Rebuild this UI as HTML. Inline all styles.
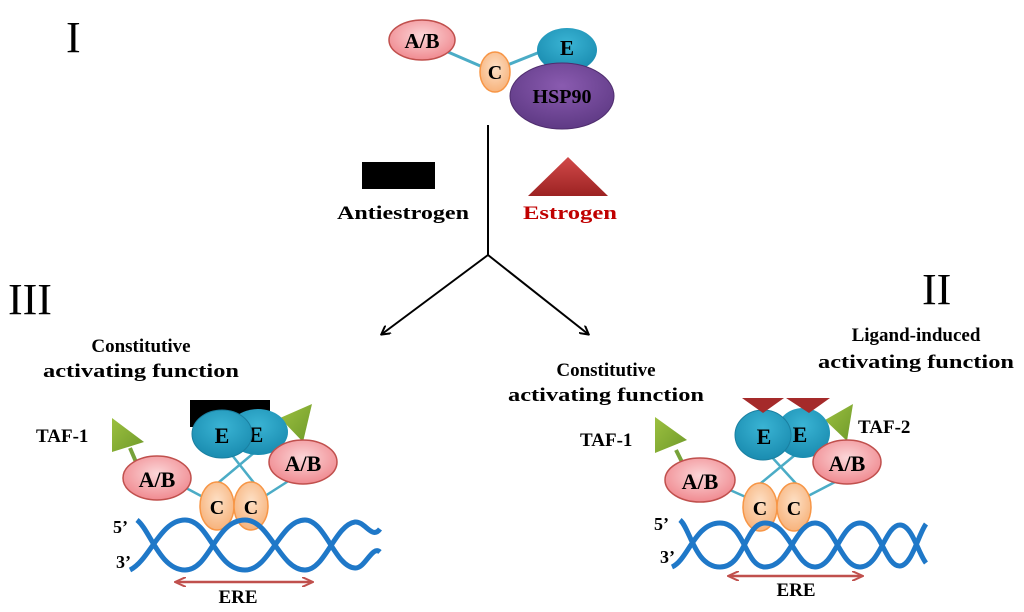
<!DOCTYPE html>
<html><head><meta charset="utf-8"><style>
html,body{margin:0;padding:0;background:#fff;width:1024px;height:612px;overflow:hidden}
svg text{font-family:"Liberation Serif",serif;font-weight:bold;fill:#000}
</style></head><body>
<svg width="1024" height="612" viewBox="0 0 1024 612" xmlns="http://www.w3.org/2000/svg">
<defs>
<radialGradient id="pk" cx="50%" cy="40%" r="60%"><stop offset="0" stop-color="#fbd6d8"/><stop offset="1" stop-color="#f08a90"/></radialGradient>
<radialGradient id="or" cx="50%" cy="40%" r="60%"><stop offset="0" stop-color="#fde0c6"/><stop offset="1" stop-color="#f7b37c"/></radialGradient>
<radialGradient id="cy" cx="50%" cy="35%" r="65%"><stop offset="0" stop-color="#3ab4d4"/><stop offset="1" stop-color="#1a8cb0"/></radialGradient>
<radialGradient id="pu" cx="50%" cy="35%" r="65%"><stop offset="0" stop-color="#8a5bb0"/><stop offset="1" stop-color="#5f3a85"/></radialGradient>
<linearGradient id="gr" x1="0" y1="0" x2="1" y2="1"><stop offset="0" stop-color="#9cc040"/><stop offset="1" stop-color="#6f9a2a"/></linearGradient>
<linearGradient id="rd" x1="0" y1="0" x2="0" y2="1"><stop offset="0" stop-color="#d24a4a"/><stop offset="1" stop-color="#9c2222"/></linearGradient>
<marker id="ah" markerWidth="10" markerHeight="10" refX="8" refY="5" orient="auto" markerUnits="userSpaceOnUse"><path d="M0,0 L9,5 L0,10" fill="none" stroke="#000" stroke-width="2"/></marker>
<marker id="rh" markerWidth="12" markerHeight="10" refX="10" refY="5" orient="auto-start-reverse" markerUnits="userSpaceOnUse"><path d="M0,0 L11,5 L0,10" fill="none" stroke="#c0504d" stroke-width="2"/></marker>
</defs>

<!-- Roman numerals -->
<text x="66" y="52" font-size="44" style="font-weight:normal">I</text>
<text x="8" y="314" font-size="44" style="font-weight:normal">III</text>
<text x="922" y="304" font-size="44" style="font-weight:normal">II</text>

<!-- Top complex -->
<line x1="448" y1="52" x2="485" y2="68" stroke="#4bacc6" stroke-width="3"/>
<line x1="505" y1="66" x2="540" y2="52" stroke="#4bacc6" stroke-width="3"/>
<ellipse cx="422" cy="40" rx="33" ry="20" fill="url(#pk)" stroke="#c0504d" stroke-width="1.5"/>
<text x="422" y="48" font-size="21" text-anchor="middle">A/B</text>
<ellipse cx="567" cy="50" rx="30" ry="22" fill="url(#cy)"/>
<text x="567" y="55" font-size="21" text-anchor="middle">E</text>
<ellipse cx="495" cy="72" rx="15" ry="20" fill="url(#or)" stroke="#f79646" stroke-width="1.5"/>
<text x="495" y="79" font-size="20" text-anchor="middle">C</text>
<ellipse cx="562" cy="96" rx="52" ry="33" fill="url(#pu)" stroke="#4f2d6e" stroke-width="1"/>
<text x="562" y="103" font-size="20" text-anchor="middle">HSP90</text>

<!-- Connectors -->
<line x1="488" y1="125" x2="488" y2="255" stroke="#000" stroke-width="2"/>
<line x1="488" y1="255" x2="382" y2="334" stroke="#000" stroke-width="2" marker-end="url(#ah)"/>
<line x1="488" y1="255" x2="588" y2="334" stroke="#000" stroke-width="2" marker-end="url(#ah)"/>

<rect x="362" y="162" width="73" height="27" fill="#000"/>
<polygon points="528,196 568,157 608,196" fill="url(#rd)"/>
<text x="337" y="219" font-size="19" textLength="132" lengthAdjust="spacingAndGlyphs">Antiestrogen</text>
<text x="523" y="219" font-size="19" style="fill:#c00000" textLength="94" lengthAdjust="spacingAndGlyphs">Estrogen</text>

<!-- labels -->
<text x="141" y="352" font-size="19" text-anchor="middle">Constitutive</text>
<text x="141" y="377" font-size="19" text-anchor="middle" textLength="196" lengthAdjust="spacingAndGlyphs">activating function</text>
<text x="606" y="376" font-size="19" text-anchor="middle">Constitutive</text>
<text x="606" y="401" font-size="19" text-anchor="middle" textLength="196" lengthAdjust="spacingAndGlyphs">activating function</text>
<text x="916" y="341" font-size="19" text-anchor="middle">Ligand-induced</text>
<text x="916" y="368" font-size="19" text-anchor="middle" textLength="196" lengthAdjust="spacingAndGlyphs">activating function</text>

<!-- LEFT complex -->
<g>
<line x1="130" y1="448" x2="136" y2="462" stroke="#77a23a" stroke-width="4"/>
<polygon points="112,418 144,442 112,452" fill="url(#gr)"/>
<polygon points="280,418 312,404 303,442" fill="url(#gr)"/>
<rect x="190" y="400" width="80" height="27" fill="#000"/>
<line x1="186" y1="488" x2="203" y2="497" stroke="#4bacc6" stroke-width="2.5"/>
<line x1="290" y1="480" x2="265" y2="496" stroke="#4bacc6" stroke-width="2.5"/>
<line x1="228" y1="450" x2="258" y2="488" stroke="#4bacc6" stroke-width="2.5"/>
<line x1="255" y1="452" x2="212" y2="488" stroke="#4bacc6" stroke-width="2.5"/>
<ellipse cx="258" cy="432" rx="30" ry="23" fill="url(#cy)"/>
<text x="256" y="442" font-size="22" text-anchor="middle">E</text>
<ellipse cx="222" cy="434" rx="30" ry="24" fill="url(#cy)" stroke="#1a7fa0" stroke-width="1"/>
<text x="222" y="443" font-size="22" text-anchor="middle">E</text>
<ellipse cx="157" cy="478" rx="34" ry="22" fill="url(#pk)" stroke="#c0504d" stroke-width="1.5"/>
<text x="157" y="487" font-size="22" text-anchor="middle">A/B</text>
<ellipse cx="303" cy="462" rx="34" ry="22" fill="url(#pk)" stroke="#c0504d" stroke-width="1.5"/>
<text x="303" y="471" font-size="22" text-anchor="middle">A/B</text>
<ellipse cx="217" cy="506" rx="17" ry="24" fill="url(#or)" stroke="#f79646" stroke-width="1.5"/>
<text x="217" y="514" font-size="20" text-anchor="middle">C</text>
<ellipse cx="251" cy="506" rx="17" ry="24" fill="url(#or)" stroke="#f79646" stroke-width="1.5"/>
<text x="251" y="514" font-size="20" text-anchor="middle">C</text>
<text x="36" y="442" font-size="19">TAF-1</text>
<text x="113" y="533" font-size="18">5’</text>
<text x="116" y="568" font-size="18">3’</text>
<path d="M137,520 C150,530 160,570 185,570 C210,570 215,520 245,520 C270,520 280,570 305,570 C325,570 335,525 355,522 C365,521 372,540 380,529" fill="none" stroke="#1f78c8" stroke-width="5"/>
<path d="M130,570 C150,560 160,520 185,520 C210,520 215,570 245,570 C270,570 280,520 305,520 C325,520 335,567 355,568 C365,569 372,545 380,552" fill="none" stroke="#1f78c8" stroke-width="5"/>
<line x1="176" y1="582" x2="312" y2="582" stroke="#c0504d" stroke-width="2.5" marker-start="url(#rh)" marker-end="url(#rh)"/>
<text x="238" y="603" font-size="19" text-anchor="middle">ERE</text>
</g>

<!-- RIGHT complex -->
<g>
<line x1="676" y1="450" x2="682" y2="462" stroke="#77a23a" stroke-width="4"/>
<polygon points="655,417 687,440 655,453" fill="url(#gr)"/>
<polygon points="825,420 853,404 847,441" fill="url(#gr)"/>
<line x1="730" y1="490" x2="748" y2="498" stroke="#4bacc6" stroke-width="2.5"/>
<line x1="835" y1="482" x2="808" y2="496" stroke="#4bacc6" stroke-width="2.5"/>
<line x1="770" y1="455" x2="800" y2="488" stroke="#4bacc6" stroke-width="2.5"/>
<line x1="795" y1="455" x2="755" y2="488" stroke="#4bacc6" stroke-width="2.5"/>
<ellipse cx="803" cy="433" rx="27" ry="25" fill="url(#cy)"/>
<text x="800" y="442" font-size="22" text-anchor="middle">E</text>
<ellipse cx="763" cy="435" rx="28" ry="25" fill="url(#cy)" stroke="#1a7fa0" stroke-width="1"/>
<text x="764" y="444" font-size="22" text-anchor="middle">E</text>
<polygon points="742,398 784,398 763,413" fill="#a52a2a"/>
<polygon points="786,398 830,398 809,413" fill="#a52a2a"/>
<ellipse cx="700" cy="480" rx="35" ry="22" fill="url(#pk)" stroke="#c0504d" stroke-width="1.5"/>
<text x="700" y="489" font-size="22" text-anchor="middle">A/B</text>
<ellipse cx="847" cy="462" rx="34" ry="22" fill="url(#pk)" stroke="#c0504d" stroke-width="1.5"/>
<text x="847" y="471" font-size="22" text-anchor="middle">A/B</text>
<ellipse cx="760" cy="507" rx="17" ry="24" fill="url(#or)" stroke="#f79646" stroke-width="1.5"/>
<text x="760" y="515" font-size="20" text-anchor="middle">C</text>
<ellipse cx="794" cy="507" rx="17" ry="24" fill="url(#or)" stroke="#f79646" stroke-width="1.5"/>
<text x="794" y="515" font-size="20" text-anchor="middle">C</text>
<text x="580" y="446" font-size="19">TAF-1</text>
<text x="858" y="433" font-size="19">TAF-2</text>
<text x="654" y="530" font-size="18">5’</text>
<text x="660" y="563" font-size="18">3’</text>
<path d="M680,520 C690,528 695,567 720,567 C745,567 745,523 765,523 C790,523 795,567 815,567 C835,567 840,523 860,523 C880,523 885,567 900,566 C912,565 918,535 926,524" fill="none" stroke="#1f78c8" stroke-width="5"/>
<path d="M672,567 C688,560 695,523 720,523 C745,523 745,567 765,567 C790,567 795,523 815,523 C835,523 840,567 860,567 C880,567 885,525 900,525 C912,525 918,553 926,563" fill="none" stroke="#1f78c8" stroke-width="5"/>
<line x1="729" y1="576" x2="862" y2="576" stroke="#c0504d" stroke-width="2.5" marker-start="url(#rh)" marker-end="url(#rh)"/>
<text x="796" y="596" font-size="19" text-anchor="middle">ERE</text>
</g>
</svg>
</body></html>
